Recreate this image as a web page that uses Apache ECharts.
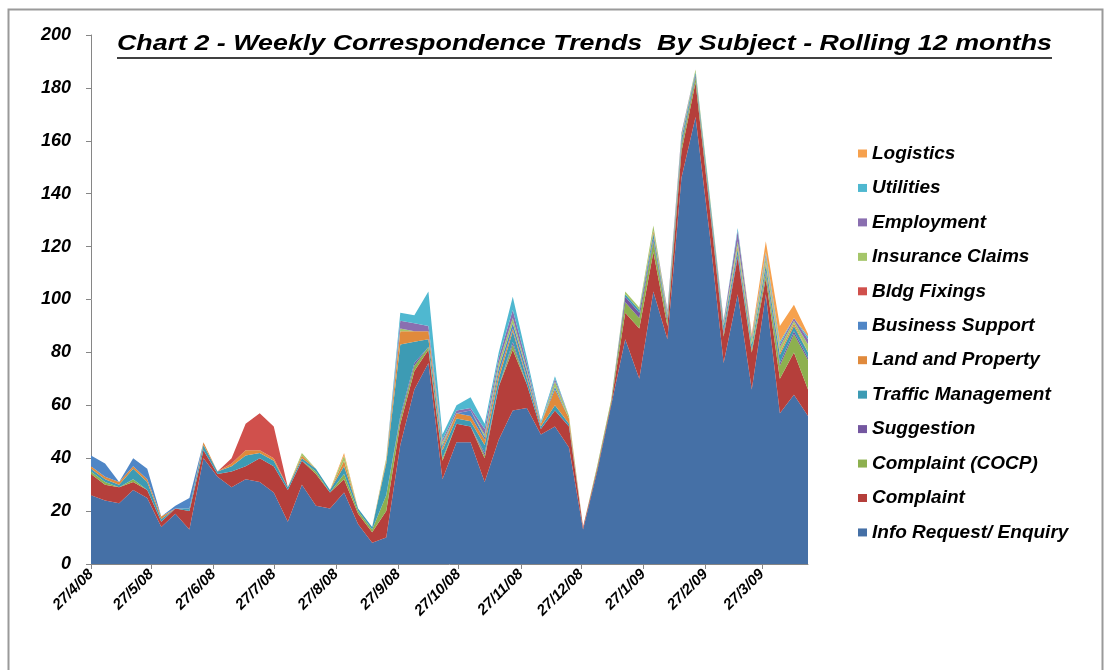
<!DOCTYPE html>
<html>
<head>
<meta charset="utf-8">
<script src="https://cdn.jsdelivr.net/npm/echarts@6/dist/echarts.min.js"></script>
<style>
  html, body { margin: 0; padding: 0; background: #ffffff; }
  #chart { width: 1105px; height: 670px; }
</style>
</head>
<body>
<div id="chart"></div>
<script>
// Weekly periods, each starting on a Sunday from 27 April 2008
const DAY = 86400000;
const firstWeek = Date.UTC(2008, 3, 27);
const weekCount = 52;
const weekStarts = Array.from({ length: weekCount }, (_, i) => firstWeek + i * 7 * DAY);
const weekNames = weekStarts.map(t => {
  const d = new Date(t);
  return d.getUTCDate() + '/' + (d.getUTCMonth() + 1) + '/' + String(d.getUTCFullYear()).slice(2);
});

// Monthly tick labels on the date axis
const tickLabels = ['27/4/08', '27/5/08', '27/6/08', '27/7/08', '27/8/08', '27/9/08',
  '27/10/08', '27/11/08', '27/12/08', '27/1/09', '27/2/09', '27/3/09'];

const yTicks = { min: 0, max: 200, step: 20 };

// Subjects, bottom of the stack first
const subjects = ['Info Request/ Enquiry', 'Complaint', 'Complaint (COCP)', 'Suggestion',
  'Traffic Management', 'Land and Property', 'Business Support', 'Bldg Fixings',
  'Insurance Claims', 'Employment', 'Utilities', 'Logistics'];

// Weekly counts per subject
const infoRequest = [26,24,23,28,25,14,19,13,40,33, 29,32,31,27,16,30,22,21,27,15,
  8,10,45,66,76,32,46,46,31,47, 58,59,49,52,44,13,35,60,85,70,
  103,85,146,169,125,76,102,66,102,57, 64,56];
const complaint = [8,6,6,3,3,2,2,7,3,1, 6,5,9,10,12,9,12,6,5,4,
  4,10,8,7,5,7,7,6,9,20, 23,9,2,6,8,1,1,1,10,19,
  15,5,10,13,10,10,14,14,6,13, 16,10];
const complaintCocp = [1,1,0,1,0,0,0,0,0,0, 0,0,0,0,0,0,1,0,2,1,
  1,6,2,2,1,1,0,0,1,0, 2,0,0,0,0,0,1,1,4,4,
  4,2,2,2,1,1,0,1,2,5, 7,11];
const suggestion = [0,0,0,0,0,0,0,0,0,0, 0,0,0,0,0,0,0,0,0,0,
  0,0,1,1,0,0,0,0,1,0, 1,0,0,0,0,0,0,0,2,2,
  1,1,1,1,1,1,1,0,1,1, 1,1];
const trafficManagement = [1,1,1,4,3,1,0,1,2,1, 2,4,2,2,1,1,1,1,3,1,
  1,12,27,8,3,3,2,2,3,3, 4,2,1,2,1,0,0,0,1,1,
  2,1,2,1,2,2,2,2,2,3, 2,2];
const landAndProperty = [1,1,1,1,1,1,0,0,1,0, 1,2,1,1,0,1,0,0,2,0,
  0,1,5,4,3,1,2,2,2,2, 1,1,1,6,2,0,0,0,0,0,
  1,0,0,0,0,0,1,0,1,1, 1,0];
const businessSupport = [4,5,0,3,4,0,1,4,0,0, 0,0,0,0,0,0,0,0,0,0,
  0,0,0,0,0,1,0,2,1,2, 2,2,0,1,0,0,0,0,0,0,
  0,0,0,0,0,0,0,0,0,0, 0,0];
const bldgFixings = [0,0,0,0,0,0,0,0,0,0, 2,10,14,12,0,0,0,0,0,0,
  0,0,0,0,0,0,0,0,0,0, 0,0,0,0,0,0,0,0,0,0,
  0,0,0,0,0,0,0,0,0,0, 0,0];
const insuranceClaims = [0,0,0,0,0,0,0,0,0,0, 0,0,0,0,0,1,0,0,2,0,
  0,1,1,0,0,1,0,0,1,2, 2,1,0,2,1,0,0,0,1,1,
  2,1,1,1,1,1,2,2,2,2, 1,3];
const employment = [0,0,0,0,0,0,0,0,0,0, 0,0,0,0,0,0,0,0,0,0,
  0,0,3,3,2,1,1,1,2,2, 3,2,0,1,0,0,0,0,0,0,
  0,1,1,0,0,1,4,1,1,1, 1,2];
const utilities = [0,0,0,0,0,0,0,0,0,0, 0,0,0,0,0,0,0,0,0,0,
  0,0,3,3,13,2,2,4,2,2, 5,2,1,1,0,0,0,0,0,0,
  0,0,0,0,0,0,1,0,1,1, 0,1];
const logistics = [0,0,0,0,0,0,0,0,0,0, 0,0,0,0,0,0,0,0,1,0,
  0,0,0,0,0,0,0,0,0,0, 0,0,0,0,0,0,0,0,0,0,
  0,0,0,0,0,0,0,1,4,6, 5,1];

const seriesValues = [infoRequest, complaint, complaintCocp, suggestion, trafficManagement,
  landAndProperty, businessSupport, bldgFixings, insuranceClaims, employment, utilities, logistics];

const colors = ['#4570a6', '#b53f3b', '#8db04f', '#7457a0', '#3d9bb4', '#e08a3c',
  '#4f86c6', '#d0504c', '#a5c66a', '#8a6fb0', '#4fb8d0', '#f6a14e'];

const FONT = '"Liberation Sans", Arial, sans-serif';

// Date axis in days since the first week; tick label text -> day number
const lastDay = (weekCount - 1) * 7;
function labelToDay(s) {
  const [d, m, y] = s.split('/').map(Number);
  return Math.round((Date.UTC(2000 + y, m - 1, d) - firstWeek) / DAY);
}
const tickDays = tickLabels.map(labelToDay);
const labelByDay = {};
tickDays.forEach((v, i) => { labelByDay[v] = tickLabels[i]; });

// Title, stretched a little wider than the plain font
const titleText = 'Chart 2 - Weekly Correspondence Trends  By Subject - Rolling 12 months';
const titleFont = 'italic bold 22px ' + FONT;
const titleLeft = 117, titleRight = 1052;
const ctx = document.createElement('canvas').getContext('2d');
ctx.font = titleFont;
const titleScale = (titleRight - titleLeft) / ctx.measureText(titleText).width;

const chart = echarts.init(document.getElementById('chart'), null, { renderer: 'canvas' });

const series = subjects.map((name, k) => ({
  name,
  type: 'line',
  xAxisIndex: 0,
  stack: 'subjects',
  data: seriesValues[k],
  symbol: 'none',
  showSymbol: false,
  lineStyle: { width: 0 },
  areaStyle: { color: colors[k], opacity: 1 },
  itemStyle: { color: colors[k] },
  emphasis: { disabled: true },
  z: 2
}));

const labelStyle = {
  color: '#000000',
  fontFamily: FONT,
  fontWeight: 'bold',
  fontStyle: 'italic'
};

chart.setOption({
  animation: false,
  backgroundColor: '#ffffff',
  color: colors,
  grid: { left: 91, right: 297, top: 35, bottom: 106, containLabel: false },
  xAxis: [
    {
      // weekly positions used by the stacked areas
      type: 'category',
      data: weekNames,
      boundaryGap: false,
      show: false
    },
    {
      // visible date axis with monthly ticks
      type: 'value',
      position: 'bottom',
      min: 0,
      max: lastDay,
      splitLine: { show: false },
      axisLine: { show: true, onZero: false, lineStyle: { color: '#868686', width: 1 } },
      axisTick: { show: true, length: 5, customValues: tickDays, lineStyle: { color: '#868686' } },
      axisLabel: Object.assign({
        customValues: tickDays,
        rotate: 45,
        margin: 8,
        fontSize: 15,
        formatter: v => labelByDay[v] || ''
      }, labelStyle)
    }
  ],
  yAxis: {
    type: 'value',
    min: yTicks.min,
    max: yTicks.max,
    interval: yTicks.step,
    splitLine: { show: false },
    axisLine: { show: true, lineStyle: { color: '#868686', width: 1 } },
    axisTick: { show: true, length: 5, lineStyle: { color: '#868686' } },
    axisLabel: Object.assign({ margin: 20, fontSize: 18 }, labelStyle)
  },
  legend: {
    orient: 'vertical',
    left: 858,
    top: 144,
    padding: 0,
    itemWidth: 9,
    itemHeight: 8,
    itemGap: 15.45,
    icon: 'rect',
    selectedMode: false,
    data: subjects.slice().reverse(),
    textStyle: Object.assign({ fontSize: 19 }, labelStyle)
  },
  graphic: [
    {
      type: 'rect',
      silent: true,
      shape: { x: 8.5, y: 9.5, width: 1094, height: 700 },
      style: { fill: null, stroke: '#9a9a9a', lineWidth: 2 },
      z: 0
    },
    {
      type: 'text',
      silent: true,
      x: titleLeft,
      y: 44,
      scaleX: titleScale,
      style: {
        text: titleText,
        font: titleFont,
        fill: '#000000',
        align: 'left',
        verticalAlign: 'middle'
      },
      z: 10
    },
    {
      type: 'line',
      silent: true,
      shape: { x1: titleLeft, y1: 58, x2: titleRight, y2: 58 },
      style: { stroke: '#000000', lineWidth: 1.5 },
      z: 10
    }
  ],
  series
});
</script>
</body>
</html>
